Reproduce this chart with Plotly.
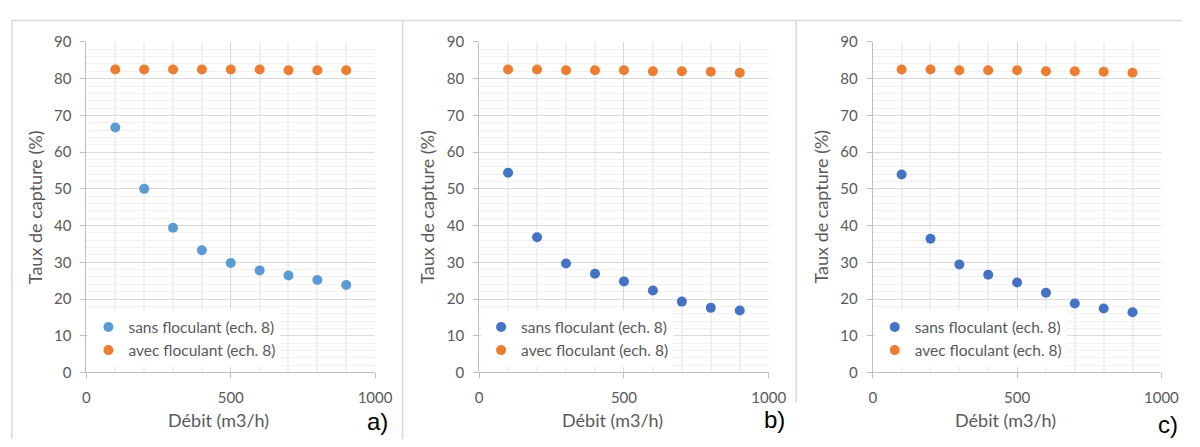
import plotly.graph_objects as go

# Débit (m3/h) and capture rates (%) for the three samples
debit = [100, 200, 300, 400, 500, 600, 700, 800, 900]

a_sans = [66.7, 50.0, 39.4, 33.3, 29.8, 27.8, 26.4, 25.2, 23.8]
a_avec = [82.5, 82.5, 82.5, 82.5, 82.5, 82.5, 82.3, 82.3, 82.3]

b_sans = [54.4, 36.8, 29.7, 26.9, 24.8, 22.3, 19.3, 17.6, 16.9]
b_avec = [82.5, 82.5, 82.3, 82.3, 82.3, 82.0, 82.0, 81.9, 81.6]

c_sans = [53.9, 36.4, 29.4, 26.6, 24.5, 21.7, 18.8, 17.4, 16.4]
c_avec = [82.5, 82.5, 82.3, 82.3, 82.3, 82.0, 82.0, 81.9, 81.6]

panel_labels = ["a)", "b)", "c)"]
name_sans = "sans floculant (ech. 8)"
name_avec = "avec floculant (ech. 8)"
x_title = "Débit (m3/h)"
y_title = "Taux de capture (%)"

W, H = 1200, 447
FONT = "Lato, sans-serif"
GREY = "#595959"

# pixel geometry of each plot area (left, right) and shared top/bottom
panels = [(84, 378), (484, 779), (885, 1179)]
top_px, bot_px = 33.3, 377.7
blue = ["#5B9BD5", "#4472C4", "#4472C4"]
orange = "#ED7D31"
series = [(a_sans, a_avec), (b_sans, b_avec), (c_sans, c_avec)]


def px_x(p):
    return p / W


def px_y(p):
    return (H - p) / H


fig = go.Figure()
for i, ((l, r), (s, a)) in enumerate(zip(panels, series)):
    k = "" if i == 0 else str(i + 1)
    leg = "legend" + k
    fig.add_trace(go.Scatter(
        x=debit, y=s, mode="markers", name=name_sans,
        marker=dict(color=blue[i], size=10),
        xaxis="x" + k, yaxis="y" + k, legend=leg))
    fig.add_trace(go.Scatter(
        x=debit, y=a, mode="markers", name=name_avec,
        marker=dict(color=orange, size=10),
        xaxis="x" + k, yaxis="y" + k, legend=leg))

    axis_common = dict(
        showline=True, linecolor="#BFBFBF", linewidth=1,
        ticks="outside", ticklen=5, tickcolor="#BFBFBF",
        tickfont=dict(family=FONT, size=15, color=GREY),
        zeroline=False, gridcolor="#D9D9D9", gridwidth=1.3,
        fixedrange=True,
    )
    fig.update_layout(**{
        "xaxis" + k: dict(
            axis_common, domain=[px_x(l), px_x(r)], range=[0, 1000],
            dtick=500, anchor="y" + k, ticklabelstandoff=7,
            minor=dict(dtick=100, showgrid=True, gridcolor="#F0F0F0",
                       gridwidth=1.6, ticks=""),
        ),
        "yaxis" + k: dict(
            axis_common, domain=[px_y(bot_px), px_y(top_px)], range=[0, 90],
            dtick=10, anchor="x" + k, ticklabelstandoff=6,
            minor=dict(dtick=2, showgrid=True, gridcolor="#F0F0F0",
                       gridwidth=1.3, ticks=""),
        ),
        leg: dict(
            x=px_x(l + 2), y=px_y(313), xanchor="left", yanchor="top",
            bgcolor="white", borderwidth=0,
            font=dict(family=FONT, size=15.5, color=GREY),
            itemclick=False, itemdoubleclick=False,
        ),
    })

    cx = (l + r) / 2
    fig.add_annotation(text=x_title, x=px_x(cx - 12), y=px_y(427),
                       xref="paper", yref="paper", showarrow=False,
                       xanchor="center", yanchor="middle",
                       font=dict(family=FONT, size=18, color=GREY))
    fig.add_annotation(text=y_title, x=px_x(l - 53), y=px_y(205),
                       xref="paper", yref="paper", showarrow=False,
                       textangle=-90, xanchor="center", yanchor="middle",
                       font=dict(family=FONT, size=18, color=GREY))

# panel letters
for lab, (xr, yc) in zip(panel_labels, [(393, 429), (798, 427), (1198, 432)]):
    fig.add_annotation(text=lab, x=px_x(xr), y=px_y(yc), xref="paper",
                       yref="paper", showarrow=False, xanchor="right",
                       yanchor="middle",
                       font=dict(family="Liberation Sans, Arial", size=24,
                                 color="black"))

# chart frames
frame = dict(type="line", xref="paper", yref="paper",
             line=dict(color="#D9D9D9", width=1.5))
fig.add_shape(frame, x0=px_x(8), x1=px_x(1199), y0=px_y(11), y1=px_y(11))
fig.add_shape(frame, x0=px_x(8), x1=px_x(8), y0=px_y(11), y1=0)
fig.add_shape(frame, x0=px_x(406), x1=px_x(406), y0=px_y(11), y1=0)
fig.add_shape(frame, x0=px_x(807), x1=px_x(807), y0=px_y(11), y1=px_y(409))

fig.update_layout(
    width=W, height=H, margin=dict(l=0, r=0, t=0, b=0),
    paper_bgcolor="white", plot_bgcolor="white", showlegend=True,
)

fig.write_html(
    "out.html",
    config={"displayModeBar": False},
    post_script="document.body.style.margin='0';"
                "document.body.style.overflow='hidden';",
)
